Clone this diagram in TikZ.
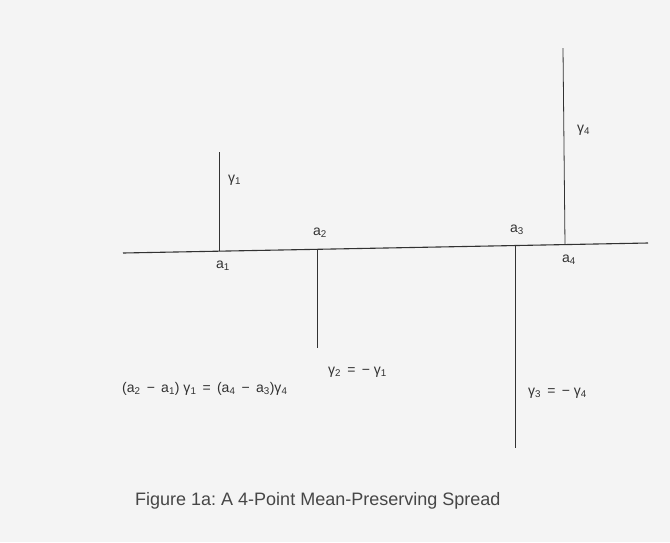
\documentclass[tikz,border=0pt]{standalone}
\usepackage{fontspec}
\setmainfont{Liberation Sans}
\usepackage{tikz}
\usetikzlibrary{positioning, calc}
\usepackage{xcolor}
\frenchspacing
\definecolor{paper}{RGB}{244,244,244}
\definecolor{ink}{RGB}{50,50,50}
\tikzstyle{axisline} = [ink, line width=1.1pt]
\tikzstyle{spike}    = [ink, line width=0.8pt]
\tikzstyle{ptlabel}  = [inner sep=1pt, text=ink, font=\fontsize{14}{16}\selectfont]
\tikzstyle{caption}  = [inner sep=0pt, anchor=base west, text=ink!90, font=\fontsize{18}{21}\selectfont]

\begin{document}
\begin{tikzpicture}[x=1pt, y=-1pt]
  \fill[paper] (0,0) rectangle (670,542);
  \useasboundingbox (0,0) rectangle (670,542);

  % the line and the four points on it
  \coordinate (left)  at (123,253);
  \coordinate (right) at (648,243);
  \coordinate (a1) at (219,251.2);
  \coordinate (a2) at (317,249.3);
  \coordinate (a3) at (515,245.5);
  \coordinate (a4) at (565,244.6);
  \coordinate (g1end) at (219,152);
  \coordinate (g2end) at (317,348);
  \coordinate (g3end) at (515,448);
  \coordinate (g4end) at (563,48);

  \draw[axisline] (left) -- (right);
  \draw[spike] (a1) -- (g1end);
  \draw[spike] (a2) -- (g2end);
  \draw[spike] (a3) -- (g3end);
  \draw[spike] (a4) -- (g4end);

  \node (la1) [ptlabel] at (223,266) {a\textsubscript{1}};
  \node (la2) [ptlabel] at (320,233) {a\textsubscript{2}};
  \node (la3) [ptlabel] at (517,230) {a\textsubscript{3}};
  \node (la4) [ptlabel] at (569,260) {a\textsubscript{4}};

  \node (lg1) [ptlabel, anchor=west] at (227,180) {γ\textsubscript{1}};
  \node (lg4) [ptlabel, anchor=west] at (576,130) {γ\textsubscript{4}};
  \node (lg2) [ptlabel, anchor=west] at (327,372) {γ\textsubscript{2} \,=\, − γ\textsubscript{1}};
  \node (lg3) [ptlabel, anchor=west] at (527,393) {γ\textsubscript{3} \,=\, − γ\textsubscript{4}};

  \node (balance) [ptlabel, anchor=west] at (121,389) {(a\textsubscript{2} \,−\, a\textsubscript{1}) γ\textsubscript{1} \,=\, (a\textsubscript{4} \,−\, a\textsubscript{3})γ\textsubscript{4}};

  \node (title) [caption] at (135,505) {Figure 1a: A 4-Point Mean-Preserving Spread};
\end{tikzpicture}
\end{document}
